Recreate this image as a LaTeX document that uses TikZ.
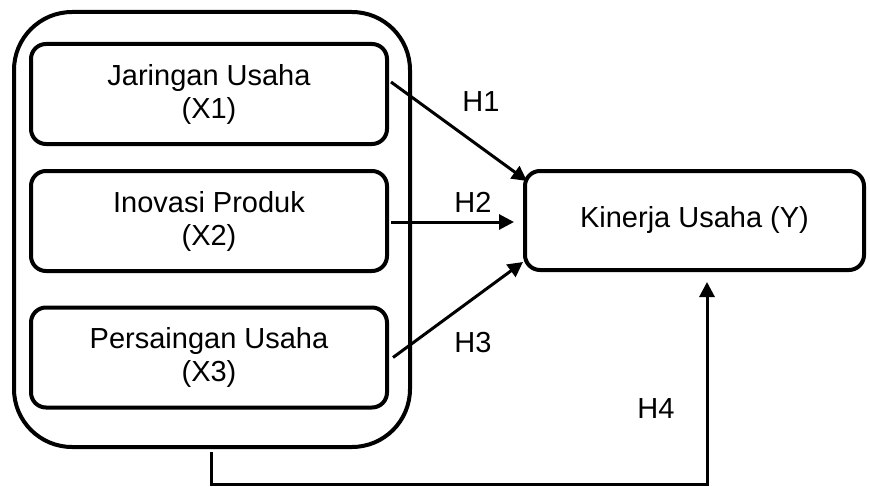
\documentclass[tikz,border=0pt]{standalone}
\usepackage{fontspec}
\setmainfont{Liberation Sans}
\usetikzlibrary{arrows.meta,calc}
\begin{document}
\begin{tikzpicture}[x=1pt,y=-1pt,
  txt/.style={font=\fontsize{29}{33}\selectfont},
  box/.style={draw,line width=4pt,rounded corners=15pt,minimum width=356pt,minimum height=100pt,align=center,inner sep=0pt,txt},
  outerbox/.style={draw,line width=4pt,rounded corners=58pt,minimum width=396pt,minimum height=435pt,inner sep=0pt},
  arr/.style={line width=3pt,-{Triangle[length=15pt,width=15pt]}},
  lab/.style={txt,inner sep=0pt}]
\useasboundingbox (0,0) rectangle (870,487);
\node[outerbox] (outer) at (212,229.5) {};
\node[box] (x1) at (209,94) {Jaringan Usaha\\(X1)};
\node[box] (x2) at (209,221) {Inovasi Produk\\(X2)};
\node[box] (x3) at (209,357.5) {Persaingan Usaha\\(X3)};
\node[box,minimum width=339pt,minimum height=99pt] (y) at (694.5,220.5) {Kinerja Usaha (Y)};
\coordinate (s1) at ($(x1.east)+(2,-12)$);
\coordinate (s2) at ($(x2.east)+(2,1)$);
\coordinate (s3) at ($(x3.east)+(4,0)$);
\coordinate (e1) at (527,181);
\coordinate (e2) at (514,222);
\coordinate (e3) at (523,262);
\draw[arr] (s1) -- (e1);
\draw[arr] (s2) -- (e2);
\draw[arr] (s3) -- (e3);
\coordinate (h4s) at (211,452);
\coordinate (h4e) at (707,282);
\draw[arr] (h4s) -- (h4s |- 0,484) -| (h4e);
\node[lab] (l1) at (481,102) {H1};
\node[lab] (l2) at (473,202) {H2};
\node[lab] (l3) at (473,343) {H3};
\node[lab] (l4) at (656,409) {H4};
\end{tikzpicture}
\end{document}
